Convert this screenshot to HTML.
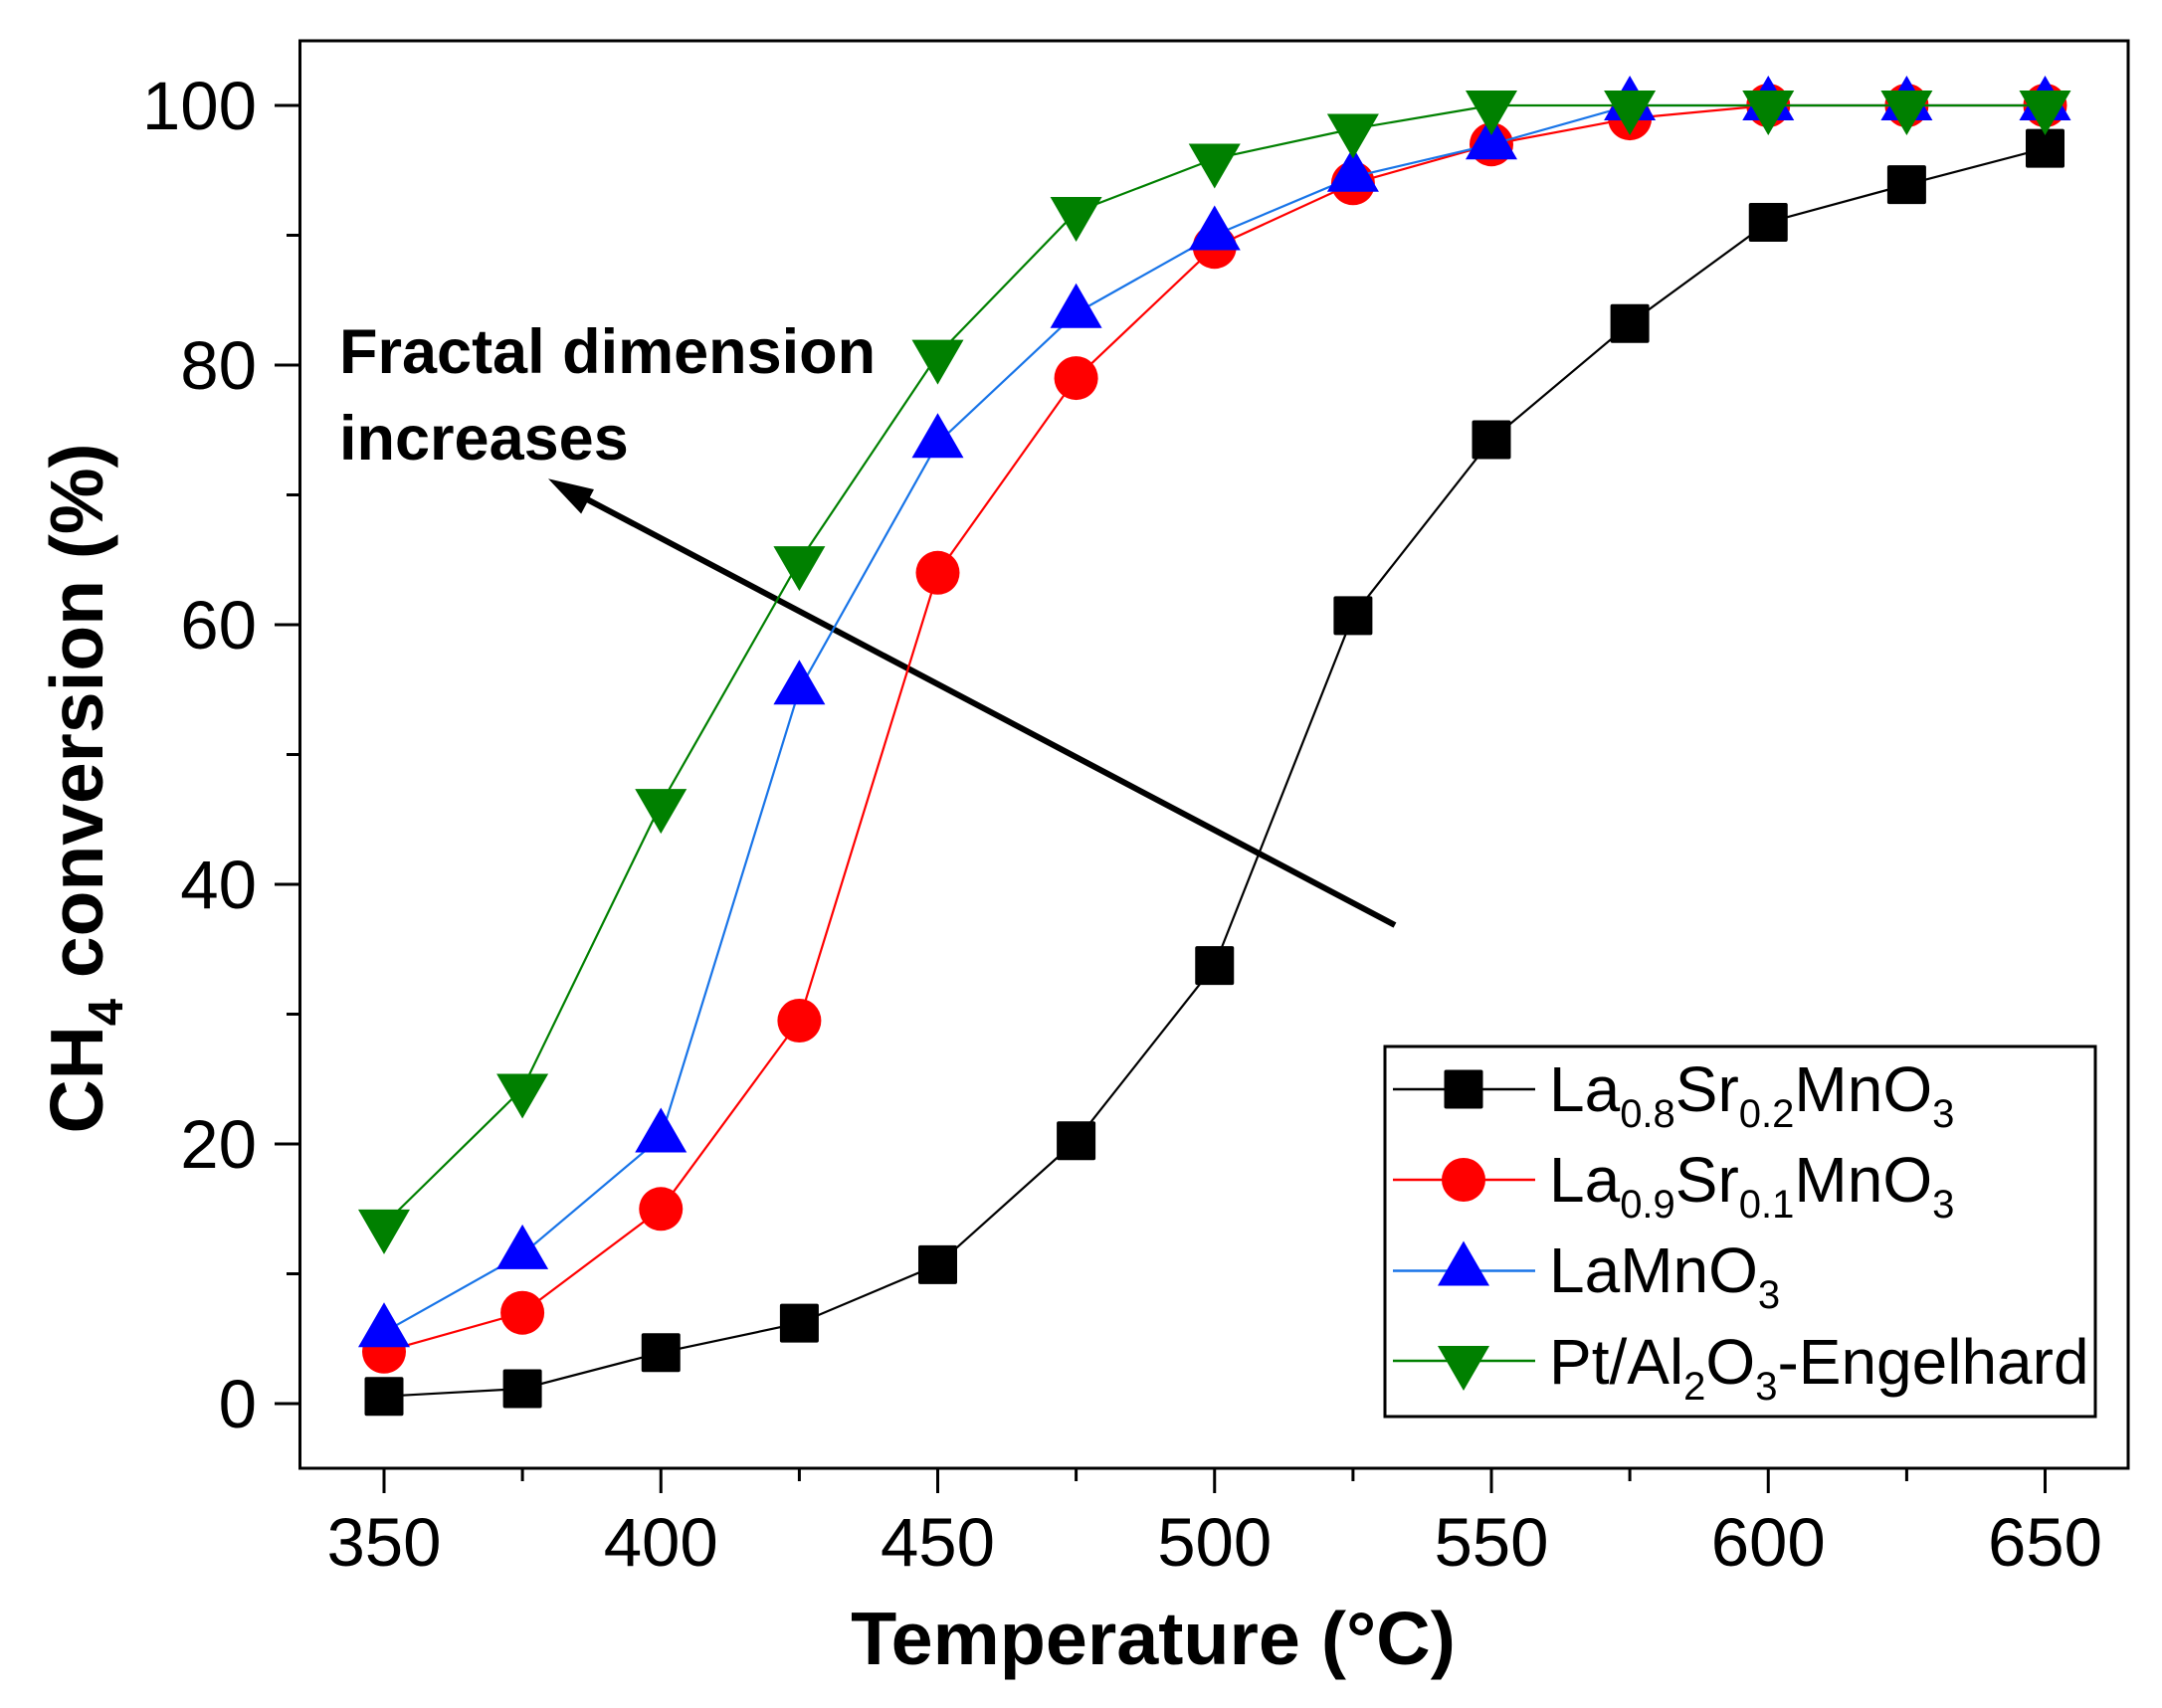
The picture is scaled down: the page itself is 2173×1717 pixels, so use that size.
<!DOCTYPE html>
<html>
<head>
<meta charset="utf-8">
<style>
  html,body{margin:0;padding:0;background:#fff;}
  svg{display:block;}
  text{font-family:"Liberation Sans", Arial, sans-serif;fill:#000;}
</style>
</head>
<body>
<svg width="2173" height="1717" viewBox="0 0 2173 1717" xmlns="http://www.w3.org/2000/svg">
  <rect x="0" y="0" width="2173" height="1717" fill="#fff"/>

  <!-- ticks -->
  <g stroke="#000" stroke-width="3" fill="none">
    <line x1="386" y1="1476" x2="386" y2="1501"/>
    <line x1="664.25" y1="1476" x2="664.25" y2="1501"/>
    <line x1="942.5" y1="1476" x2="942.5" y2="1501"/>
    <line x1="1220.75" y1="1476" x2="1220.75" y2="1501"/>
    <line x1="1499" y1="1476" x2="1499" y2="1501"/>
    <line x1="1777.25" y1="1476" x2="1777.25" y2="1501"/>
    <line x1="2055.5" y1="1476" x2="2055.5" y2="1501"/>
    <line x1="525.1" y1="1476" x2="525.1" y2="1489"/>
    <line x1="803.4" y1="1476" x2="803.4" y2="1489"/>
    <line x1="1081.6" y1="1476" x2="1081.6" y2="1489"/>
    <line x1="1359.9" y1="1476" x2="1359.9" y2="1489"/>
    <line x1="1638.1" y1="1476" x2="1638.1" y2="1489"/>
    <line x1="1916.4" y1="1476" x2="1916.4" y2="1489"/>
    <line x1="276" y1="1411" x2="302" y2="1411"/>
    <line x1="276" y1="1150" x2="302" y2="1150"/>
    <line x1="276" y1="889" x2="302" y2="889"/>
    <line x1="276" y1="628" x2="302" y2="628"/>
    <line x1="276" y1="367" x2="302" y2="367"/>
    <line x1="276" y1="106" x2="302" y2="106"/>
    <line x1="288" y1="1280.5" x2="302" y2="1280.5"/>
    <line x1="288" y1="1019.5" x2="302" y2="1019.5"/>
    <line x1="288" y1="758.5" x2="302" y2="758.5"/>
    <line x1="288" y1="497.5" x2="302" y2="497.5"/>
    <line x1="288" y1="236.5" x2="302" y2="236.5"/>
  </g>

  <!-- tick labels -->
  <g font-size="69" text-anchor="middle">
    <text x="386" y="1574">350</text>
    <text x="664.25" y="1574">400</text>
    <text x="942.5" y="1574">450</text>
    <text x="1220.75" y="1574">500</text>
    <text x="1499" y="1574">550</text>
    <text x="1777.25" y="1574">600</text>
    <text x="2055.5" y="1574">650</text>
  </g>
  <g font-size="69" text-anchor="end">
    <text x="258" y="1435">0</text>
    <text x="258" y="1174">20</text>
    <text x="258" y="913">40</text>
    <text x="258" y="652">60</text>
    <text x="258" y="391">80</text>
    <text x="258" y="130">100</text>
  </g>

  <!-- axis titles -->
  <text x="1159" y="1673" font-size="75.5" font-weight="bold" text-anchor="middle">Temperature (°C)</text>
  <text transform="translate(103,792.5) rotate(-90)" font-size="75" font-weight="bold" text-anchor="middle">CH<tspan font-size="49" dy="20">4</tspan><tspan dy="-20"> conversion (%)</tspan></text>

  <!-- annotation -->
  <text x="341" y="375" font-size="63" font-weight="bold">Fractal dimension</text>
  <text x="341" y="462" font-size="63" font-weight="bold">increases</text>
  <line x1="1402" y1="930" x2="585" y2="499.3" stroke="#000" stroke-width="6"/>
  <polygon points="554,483 595.5,492.7 583.9,514.8" fill="#000" stroke="#000" stroke-width="2" stroke-linejoin="miter"/>

  <!-- series: La0.8Sr0.2MnO3 (black) -->
  <polyline fill="none" stroke="#000" stroke-width="2.2"
    points="386,1403.7 525.1,1396 664.25,1359.7 803.4,1330.1 942.5,1271.4 1081.6,1146.7 1220.75,970.6 1359.9,618.9 1499,442 1638.1,325.2 1777.25,223.5 1916.4,185.6 2055.5,149.1"/>
  <g fill="#000">
    <rect x="366.5" y="1384.2" width="39" height="39" rx="2"/>
    <rect x="505.6" y="1376.5" width="39" height="39" rx="2"/>
    <rect x="644.75" y="1340.2" width="39" height="39" rx="2"/>
    <rect x="783.9" y="1310.6" width="39" height="39" rx="2"/>
    <rect x="923" y="1251.9" width="39" height="39" rx="2"/>
    <rect x="1062.1" y="1127.2" width="39" height="39" rx="2"/>
    <rect x="1201.25" y="951.1" width="39" height="39" rx="2"/>
    <rect x="1340.4" y="599.4" width="39" height="39" rx="2"/>
    <rect x="1479.5" y="422.5" width="39" height="39" rx="2"/>
    <rect x="1618.6" y="305.7" width="39" height="39" rx="2"/>
    <rect x="1757.75" y="204" width="39" height="39" rx="2"/>
    <rect x="1896.9" y="166.1" width="39" height="39" rx="2"/>
    <rect x="2036" y="129.6" width="39" height="39" rx="2"/>
  </g>

  <!-- series: La0.9Sr0.1MnO3 (red) -->
  <polyline fill="none" stroke="#ff0000" stroke-width="2.2"
    points="386,1358.8 525.1,1319.7 664.25,1215.3 803.4,1026 942.5,575.8 1081.6,380.1 1220.75,248.2 1359.9,184.3 1499,145.2 1638.1,119.1 1777.25,106 1916.4,106 2055.5,106"/>
  <g fill="#ff0000">
    <circle cx="386" cy="1358.8" r="22"/>
    <circle cx="525.1" cy="1319.7" r="22"/>
    <circle cx="664.25" cy="1215.3" r="22"/>
    <circle cx="803.4" cy="1026" r="22"/>
    <circle cx="942.5" cy="575.8" r="22"/>
    <circle cx="1081.6" cy="380.1" r="22"/>
    <circle cx="1220.75" cy="248.2" r="22"/>
    <circle cx="1359.9" cy="184.3" r="22"/>
    <circle cx="1499" cy="145.2" r="22"/>
    <circle cx="1638.1" cy="119.1" r="22"/>
    <circle cx="1777.25" cy="106" r="22"/>
    <circle cx="1916.4" cy="106" r="22"/>
    <circle cx="2055.5" cy="106" r="22"/>
  </g>

  <!-- series: LaMnO3 (blue) -->
  <polyline fill="none" stroke="#1874e8" stroke-width="2.2"
    points="386,1339.2 525.1,1260.9 664.25,1143.5 803.4,693.3 942.5,445.3 1081.6,314.8 1220.75,236.5 1359.9,177.8 1499,145.2 1638.1,106 1777.25,106 1916.4,106 2055.5,106"/>
  <g fill="#0000ff">
    <polygon points="386,1309.2 360,1354.2 412,1354.2"/>
    <polygon points="525.1,1230.9 499.1,1275.9 551.1,1275.9"/>
    <polygon points="664.25,1113.5 638.25,1158.5 690.25,1158.5"/>
    <polygon points="803.4,663.3 777.4,708.3 829.4,708.3"/>
    <polygon points="942.5,415.3 916.5,460.3 968.5,460.3"/>
    <polygon points="1081.6,284.8 1055.6,329.8 1107.6,329.8"/>
    <polygon points="1220.75,206.5 1194.75,251.5 1246.75,251.5"/>
    <polygon points="1359.9,147.8 1333.9,192.8 1385.9,192.8"/>
    <polygon points="1499,115.2 1473,160.2 1525,160.2"/>
    <polygon points="1638.1,76 1612.1,121 1664.1,121"/>
    <polygon points="1777.25,76 1751.25,121 1803.25,121"/>
    <polygon points="1916.4,76 1890.4,121 1942.4,121"/>
    <polygon points="2055.5,76 2029.5,121 2081.5,121"/>
  </g>

  <!-- series: Pt/Al2O3-Engelhard (green) -->
  <polyline fill="none" stroke="#008000" stroke-width="2.2"
    points="386,1230.9 525.1,1094.5 664.25,808.1 803.4,564.1 942.5,356.6 1081.6,213 1220.75,159.5 1359.9,129.5 1499,106 1638.1,106 1777.25,106 1916.4,106 2055.5,106"/>
  <g fill="#008000">
    <polygon points="360,1215.9 412,1215.9 386,1260.9"/>
    <polygon points="499.1,1079.5 551.1,1079.5 525.1,1124.5"/>
    <polygon points="638.25,793.1 690.25,793.1 664.25,838.1"/>
    <polygon points="777.4,549.1 829.4,549.1 803.4,594.1"/>
    <polygon points="916.5,341.6 968.5,341.6 942.5,386.6"/>
    <polygon points="1055.6,198 1107.6,198 1081.6,243"/>
    <polygon points="1194.75,144.5 1246.75,144.5 1220.75,189.5"/>
    <polygon points="1333.9,114.5 1385.9,114.5 1359.9,159.5"/>
    <polygon points="1473,91 1525,91 1499,136"/>
    <polygon points="1612.1,91 1664.1,91 1638.1,136"/>
    <polygon points="1751.25,91 1803.25,91 1777.25,136"/>
    <polygon points="1890.4,91 1942.4,91 1916.4,136"/>
    <polygon points="2029.5,91 2081.5,91 2055.5,136"/>
  </g>

  <!-- legend -->
  <rect x="1392" y="1052" width="714" height="372" fill="#fff" stroke="#000" stroke-width="3"/>
  <line x1="1400" y1="1095" x2="1543" y2="1095" stroke="#000" stroke-width="2.5"/>
  <rect x="1451.5" y="1075.5" width="39" height="39" rx="2" fill="#000"/>
  <line x1="1400" y1="1186" x2="1543" y2="1186" stroke="#ff0000" stroke-width="2.5"/>
  <circle cx="1471" cy="1186" r="22" fill="#ff0000"/>
  <line x1="1400" y1="1277.5" x2="1543" y2="1277.5" stroke="#1874e8" stroke-width="2.5"/>
  <polygon points="1471,1247.5 1445,1292.5 1497,1292.5" fill="#0000ff"/>
  <line x1="1400" y1="1368" x2="1543" y2="1368" stroke="#008000" stroke-width="2.5"/>
  <polygon points="1445,1353 1497,1353 1471,1398" fill="#008000"/>

  <g font-size="64">
    <text x="1557" y="1117">La<tspan font-size="40" dy="16">0.8</tspan><tspan dy="-16">Sr</tspan><tspan font-size="40" dy="16">0.2</tspan><tspan dy="-16">MnO</tspan><tspan font-size="40" dy="16">3</tspan></text>
    <text x="1557" y="1208">La<tspan font-size="40" dy="16">0.9</tspan><tspan dy="-16">Sr</tspan><tspan font-size="40" dy="16">0.1</tspan><tspan dy="-16">MnO</tspan><tspan font-size="40" dy="16">3</tspan></text>
    <text x="1557" y="1299">LaMnO<tspan font-size="40" dy="16">3</tspan></text>
    <text x="1557" y="1391">Pt/Al<tspan font-size="40" dy="16">2</tspan><tspan dy="-16">O</tspan><tspan font-size="40" dy="16">3</tspan><tspan dy="-16">-Engelhard</tspan></text>
  </g>

  <!-- plot frame -->
  <rect x="301.5" y="41" width="1837.5" height="1435" fill="none" stroke="#000" stroke-width="3"/>
</svg>
</body>
</html>
